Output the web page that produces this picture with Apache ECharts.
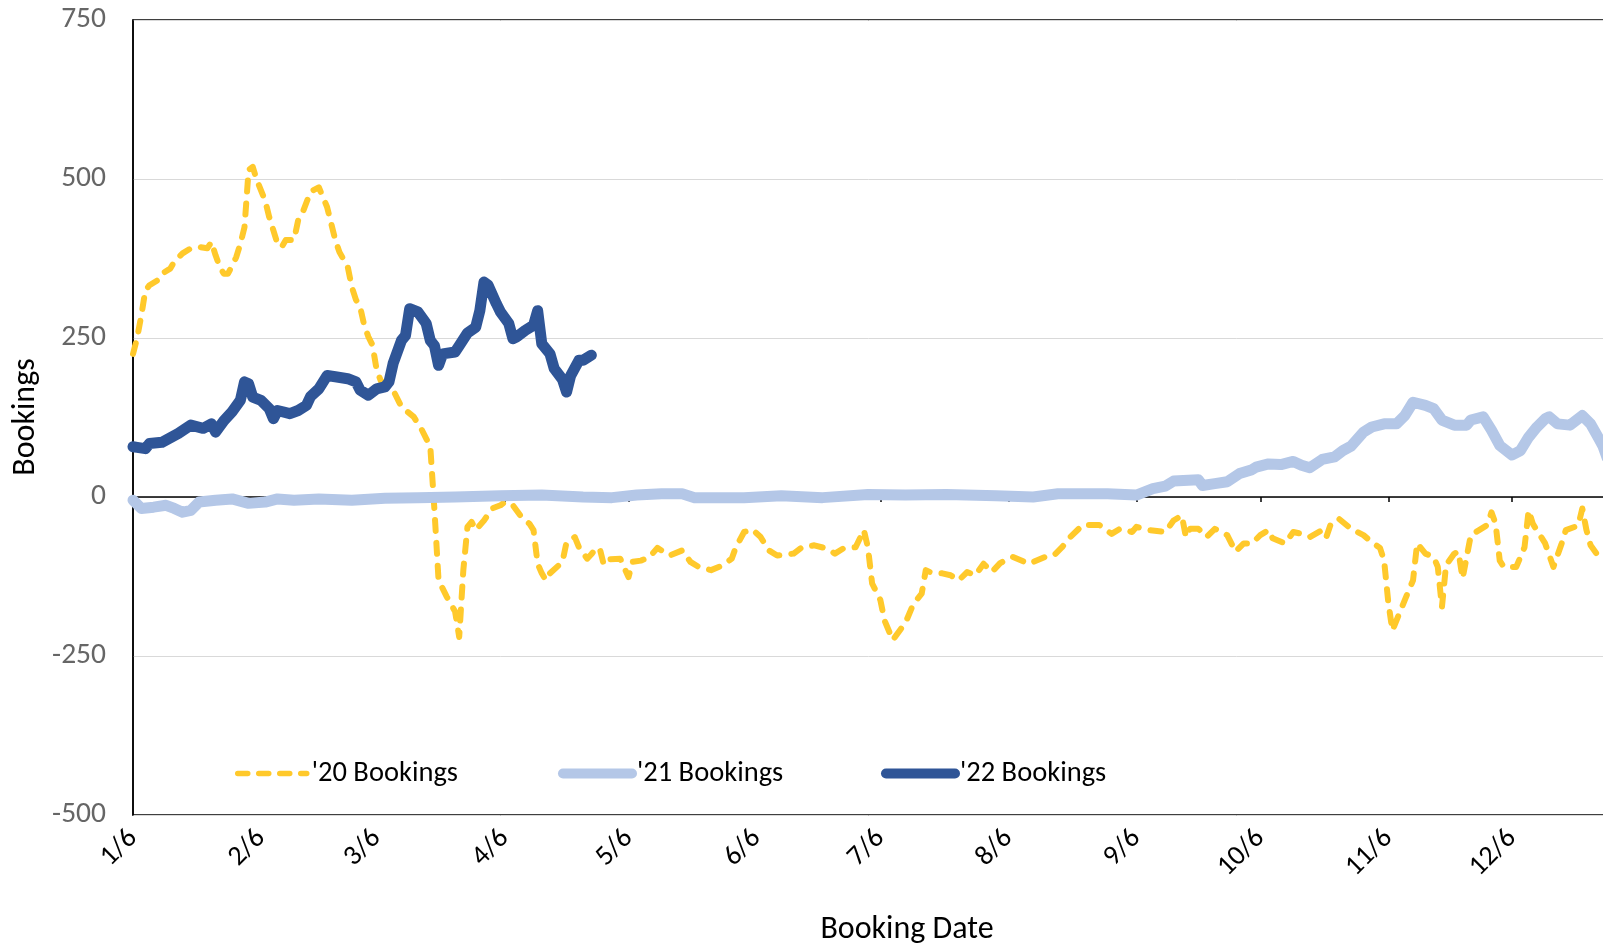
<!DOCTYPE html>
<html>
<head>
<meta charset="utf-8">
<title>Bookings</title>
<script src="https://cdn.jsdelivr.net/npm/echarts@6/dist/echarts.min.js"></script>
<style>
    html, body {margin: 0; padding: 0; background: #fff;}
    #chart {width: 1603px; height: 948px;}
</style>
</head>
<body>
<div id="chart"></div>
<script>
let FONT = 'Carlito, Calibri, Lato, sans-serif';

// axis: one category per day, 1/6 through 1/5
let startDay = new Date(2021, 0, 6);
let dayCount = 365;
let yMin = -500;
let yMax = 750;
let yStep = 250;

let seriesNames = ["'20 Bookings", "'21 Bookings", "'22 Bookings"];

let bookings20 = [
    ['1/6', 225], ['1/7', 250], ['1/8', 285], ['1/9', 325], ['1/10', 333], ['1/12', 341], ['1/13', 351], ['1/15', 359],
    ['1/16', 370], ['1/18', 383], ['1/20', 391], ['1/22', 393], ['1/24', 391], ['1/25', 401], ['1/26', 380], ['1/27', 362],
    ['1/28', 351], ['1/29', 351], ['1/31', 377], ['2/1', 398], ['2/2', 424], ['2/3', 514], ['2/4', 519], ['2/5', 498],
    ['2/7', 466], ['2/8', 440], ['2/10', 398], ['2/11', 393], ['2/12', 404], ['2/14', 404], ['2/15', 435], ['2/16', 446],
    ['2/18', 480], ['2/20', 487], ['2/22', 456], ['2/24', 404], ['2/25', 385], ['2/27', 362], ['2/28', 330], ['3/1', 310],
    ['3/2', 299], ['3/3', 270], ['3/4', 252], ['3/5', 239], ['3/6', 200], ['3/7', 183], ['3/10', 168], ['3/12', 142],
    ['3/15', 126], ['3/17', 105], ['3/19', 79], ['3/20', -20], ['3/21', -131], ['3/23', -157], ['3/25', -180], ['3/26', -220],
    ['3/27', -115], ['3/28', -47], ['3/29', -39], ['3/30', -52], ['4/1', -37], ['4/3', -18], ['4/5', -13], ['4/6', -8],
    ['4/8', -13], ['4/10', -31], ['4/12', -42], ['4/13', -52], ['4/14', -105], ['4/15', -120], ['4/16', -131], ['4/17', -120],
    ['4/20', -102], ['4/21', -71], ['4/23', -63], ['4/24', -79], ['4/26', -97], ['4/27', -90], ['4/28', -82], ['4/29', -80],
    ['4/30', -106], ['5/1', -98], ['5/4', -97], ['5/6', -126], ['5/7', -102], ['5/9', -100], ['5/11', -95], ['5/13', -80],
    ['5/16', -92], ['5/19', -84], ['5/21', -102], ['5/23', -110], ['5/26', -115], ['5/29', -107], ['5/31', -97], ['6/1', -79],
    ['6/3', -55], ['6/5', -51], ['6/7', -63], ['6/9', -84], ['6/11', -92], ['6/15', -89], ['6/17', -79], ['6/20', -76],
    ['6/23', -81], ['6/25', -89], ['6/27', -81], ['6/30', -79], ['7/2', -52], ['7/3', -80], ['7/4', -136], ['7/6', -162],
    ['7/7', -194], ['7/9', -225], ['7/11', -207], ['7/12', -199], ['7/14', -168], ['7/16', -152], ['7/17', -115], ['7/18', -118],
    ['7/21', -120], ['7/23', -123], ['7/25', -131], ['7/27', -118], ['7/29', -123], ['7/31', -105], ['8/2', -118], ['8/4', -104],
    ['8/7', -94], ['8/11', -105], ['8/15', -94], ['8/17', -92], ['8/19', -79], ['8/21', -63], ['8/24', -44], ['8/28', -44],
    ['8/31', -58], ['9/2', -50], ['9/5', -55], ['9/6', -47], ['9/9', -52], ['9/13', -55], ['9/15', -37], ['9/17', -29],
    ['9/18', -63], ['9/19', -50], ['9/21', -50], ['9/23', -63], ['9/25', -50], ['9/28', -60], ['9/30', -86], ['10/2', -73],
    ['10/4', -73], ['10/6', -60], ['10/8', -52], ['10/9', -65], ['10/12', -73], ['10/14', -55], ['10/16', -58], ['10/18', -63],
    ['10/21', -52], ['10/22', -63], ['10/23', -44], ['10/25', -34], ['10/28', -50], ['10/31', -60], ['11/2', -71], ['11/4', -80],
    ['11/5', -100], ['11/6', -165], ['11/7', -210], ['11/8', -194], ['11/10', -162], ['11/12', -131], ['11/13', -73], ['11/15', -89],
    ['11/17', -94], ['11/18', -110], ['11/19', -173], ['11/20', -107], ['11/22', -89], ['11/23', -86], ['11/24', -128], ['11/26', -60],
    ['11/28', -52], ['11/30', -44], ['12/1', -24], ['12/2', -42], ['12/3', -100], ['12/4', -110], ['12/7', -110], ['12/9', -79],
    ['12/10', -21], ['12/11', -42], ['12/14', -73], ['12/16', -110], ['12/18', -73], ['12/19', -52], ['12/22', -45], ['12/23', -18],
    ['12/24', -52], ['12/25', -76], ['12/27', -94], ['12/30', -96]
];

let bookings21 = [
    ['1/6', -5], ['1/8', -18], ['1/11', -16], ['1/14', -13], ['1/16', -18], ['1/18', -24], ['1/20', -21], ['1/22', -8],
    ['1/26', -5], ['1/30', -3], ['2/3', -10], ['2/7', -8], ['2/10', -3], ['2/14', -5], ['2/20', -3], ['2/28', -5],
    ['3/8', -2], ['3/16', -1], ['3/25', 0], ['4/5', 2], ['4/15', 3], ['4/25', 0], ['5/2', -1], ['5/8', 3],
    ['5/14', 5], ['5/19', 5], ['5/22', -1], ['6/3', -1], ['6/12', 2], ['6/22', -1], ['7/3', 4], ['7/12', 3],
    ['7/22', 4], ['8/3', 2], ['8/12', 0], ['8/18', 5], ['8/30', 5], ['9/6', 3], ['9/10', 13], ['9/13', 17],
    ['9/15', 25], ['9/21', 27], ['9/22', 18], ['9/25', 21], ['9/28', 24], ['10/1', 37], ['10/4', 43], ['10/5', 47],
    ['10/8', 52], ['10/11', 51], ['10/14', 56], ['10/16', 50], ['10/18', 46], ['10/21', 59], ['10/24', 63], ['10/26', 73],
    ['10/28', 80], ['10/31', 102], ['11/2', 110], ['11/5', 115], ['11/8', 115], ['11/10', 128], ['11/12', 149], ['11/15', 144],
    ['11/17', 139], ['11/19', 121], ['11/22', 113], ['11/25', 113], ['11/26', 121], ['11/29', 126], ['12/1', 105], ['12/3', 81],
    ['12/6', 66], ['12/8', 73], ['12/10', 94], ['12/12', 110], ['12/14', 123], ['12/15', 126], ['12/17', 115], ['12/20', 113],
    ['12/23', 128], ['12/25', 115], ['12/27', 92], ['12/28', 80], ['12/29', 62]
];

let bookings22 = [
    ['1/6', 79], ['1/7', 78], ['1/9', 76], ['1/10', 84], ['1/13', 86], ['1/17', 100], ['1/20', 113], ['1/23', 108],
    ['1/25', 115], ['1/26', 102], ['1/28', 120], ['1/30', 134], ['2/1', 152], ['2/2', 181], ['2/3', 178], ['2/4', 157],
    ['2/6', 152], ['2/8', 139], ['2/9', 123], ['2/10', 136], ['2/13', 131], ['2/15', 136], ['2/17', 144], ['2/18', 158],
    ['2/20', 170], ['2/22', 191], ['2/24', 189], ['2/27', 186], ['3/1', 181], ['3/2', 168], ['3/4', 160], ['3/6', 170],
    ['3/8', 173], ['3/9', 181], ['3/10', 210], ['3/12', 246], ['3/13', 254], ['3/14', 296], ['3/16', 291], ['3/18', 273],
    ['3/19', 246], ['3/20', 238], ['3/21', 207], ['3/22', 225], ['3/25', 228], ['3/26', 238], ['3/28', 258], ['3/30', 267],
    ['3/31', 293], ['4/1', 338], ['4/2', 333], ['4/4', 304], ['4/5', 291], ['4/7', 273], ['4/8', 249], ['4/9', 252],
    ['4/11', 262], ['4/13', 270], ['4/14', 293], ['4/15', 241], ['4/17', 225], ['4/18', 202], ['4/20', 185], ['4/21', 165],
    ['4/22', 191], ['4/24', 215], ['4/25', 215], ['4/27', 223]
];

let colors = ['#FFC92B', '#B4C7E7', '#2F5597'];
let widths = [6, 11, 11];
let dashes = [[11, 12], 'solid', 'solid'];


function buildDates(start, n) {
    let out = [];
    for (let i = 0; i < n; i++) {
        let d = new Date(start.getFullYear(), start.getMonth(), start.getDate() + i);
        out.push((d.getMonth() + 1) + '/' + d.getDate());
    }
    return out;
}

function isSixth(index, value) {
    return value.split('/')[1] === '6';
}

function lineStyleOf(i) {
    return {color: colors[i], width: widths[i], type: dashes[i], cap: 'round', join: 'round'};
}

function lineSeries(i, data) {
    return {
        name: seriesNames[i],
        type: 'line',
        xAxisIndex: 0,
        data: data,
        symbol: 'none',
        smooth: false,
        itemStyle: {color: colors[i]},
        lineStyle: lineStyleOf(i)
    }
}

function legendAt(i, left) {
    let ls = lineStyleOf(i);
    if (i === 0) {
        ls.width = 5.5;
        ls.type = [10, 11];
    } else {
        ls.width = 10;
    }
    return {
        data: [seriesNames[i]],
        left: left,
        top: 759,
        padding: 0,
        itemWidth: 69,
        itemHeight: 14,
        itemStyle: {opacity: 0},
        lineStyle: ls,
        textStyle: {color: '#000', fontSize: 28.5, fontFamily: FONT},
        selectedMode: false
    }
}

let dates = buildDates(startDay, dayCount);

let chart = echarts.init(document.getElementById('chart'), null, {renderer: 'canvas'});

let option = {
    animation: false,
    backgroundColor: '#fff',
    textStyle: {fontFamily: FONT},
    grid: {
        left: 133, top: 20, width: 1503, height: 795,
        show: true, borderColor: '#000', borderWidth: 1.5, backgroundColor: 'transparent',
        outerBoundsMode: 'none', containLabel: false
    },
    legend: [
        legendAt(0, 235),
        legendAt(1, 558),
        legendAt(2, 881)
    ],
    xAxis: [
        {
            type: 'category', data: dates, boundaryGap: false,
            axisLine: {onZero: true, lineStyle: {color: '#000', width: 1.5}},
            axisTick: {interval: isSixth, length: 5, lineStyle: {color: '#000', width: 1.5}},
            axisLabel: {show: false},
            splitLine: {show: false}
        },
        {
            type: 'category', data: dates, boundaryGap: false, position: 'bottom',
            axisLine: {show: false, onZero: false},
            axisTick: {show: false},
            axisLabel: {interval: isSixth, rotate: 45, margin: 19, color: '#000', fontSize: 28, fontFamily: FONT},
            splitLine: {show: false}
        }
    ],
    yAxis: {
        type: 'value', min: yMin, max: yMax, interval: yStep,
        axisLine: {show: true, lineStyle: {color: '#000', width: 1.5}},
        axisTick: {show: false},
        axisLabel: {color: '#666', fontSize: 29.5, margin: 27, fontFamily: FONT},
        splitLine: {lineStyle: {color: '#D9D9D9', width: 1}}
    },
    graphic: [
        {
            type: 'text', x: 26, y: 417, rotation: Math.PI / 2,
            style: {text: 'Bookings', fill: '#000', fontSize: 32, fontFamily: FONT, align: 'center', verticalAlign: 'middle'}
        },
        {
            type: 'text', x: 907, y: 930,
            style: {text: 'Booking Date', fill: '#000', fontSize: 32, fontFamily: FONT, align: 'center', verticalAlign: 'middle'}
        }
    ],
    series: [
        lineSeries(0, bookings20),
        lineSeries(1, bookings21),
        lineSeries(2, bookings22)
    ]
};

chart.setOption(option);
</script>
</body>
</html>
